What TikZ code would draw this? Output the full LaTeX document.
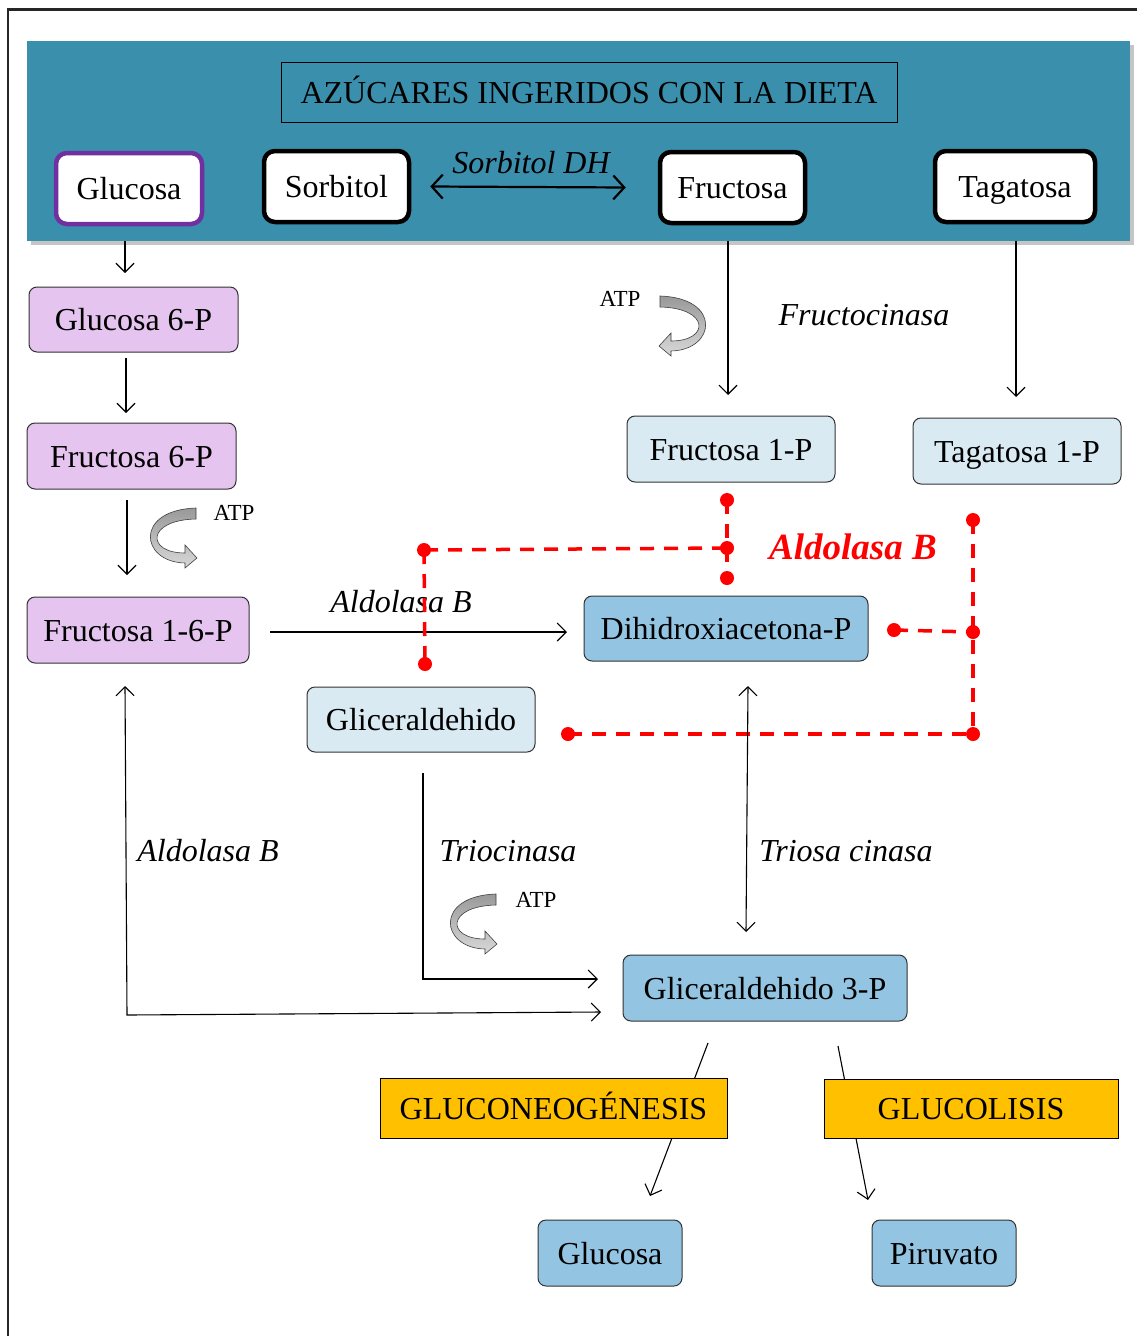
\documentclass[tikz,border=0pt]{standalone}
\usepackage{fontspec}
\setmainfont{Liberation Serif}
\usetikzlibrary{arrows.meta,shadows,calc}
\definecolor{bannerc}{HTML}{3A8FAD}
\definecolor{purplef}{RGB}{229,196,239}
\definecolor{purpled}{HTML}{7030A0}
\definecolor{lblue}{RGB}{218,234,243}
\definecolor{mblue}{RGB}{147,196,225}
\definecolor{gold}{HTML}{FFC000}
\newcommand\bigtxt{\fontsize{32}{38}\selectfont}
\newcommand\atptxt{\fontsize{23}{27}\selectfont}
\newcommand\redtxt{\fontsize{37}{44}\selectfont\bfseries\itshape}
\tikzset{
  vtip/.tip={Straight Barb[length=9pt,width=18pt]},
  vtipb/.tip={Straight Barb[length=11pt,width=24pt]},
  arr/.style={line width=1.1pt,-{vtip}},
  arrb/.style={line width=1.1pt,{vtip}-{vtip}},
  box/.style={rounded corners=8pt, draw=black!80, line width=1pt, inner sep=0pt, font=\bigtxt, text height=29pt, text depth=7pt},
  topbox/.style={box, fill=white, draw=black, line width=4.5pt, rounded corners=11pt},
  pbox/.style={box, fill=purplef},
  lbox/.style={box, fill=lblue},
  mbox/.style={box, fill=mblue},
  gbox/.style={draw=black, line width=1pt, fill=gold, inner sep=0pt, font=\bigtxt, text height=29pt, text depth=7pt},
  lab/.style={font=\bigtxt\itshape, inner sep=0pt},
  atplab/.style={font=\atptxt, inner sep=0pt},
  reddash/.style={red, line width=3.5pt, dash pattern=on 14pt off 10pt},
  atp/.pic={
    \path[draw=black!75, line width=0.6pt, top color=gray!80, bottom color=gray!30]
      (0,0) .. controls (-62,2) and (-56,54) .. (-11,55) -- (-11,60) -- (1,50) -- (-11,37) -- (-11,45)
      .. controls (-50,45) and (-50,12) .. (0,11) -- cycle;
  }
}
\begin{document}
\begin{tikzpicture}[x=1pt,y=-1pt]
\useasboundingbox (0,0) rectangle (1136,1336);
\fill[white] (0,0) rectangle (1136,1336);
\draw[line width=2.5pt, black!85] (8,1340) -- (8,9.5) -- (1140,9.5);

% banner
\node[fill=bannerc, minimum width=1103pt, minimum height=200pt, inner sep=0pt,
      drop shadow={shadow xshift=4pt, shadow yshift=-4pt, opacity=0.45}] (banner) at (578.5,141) {};
\node[draw=black, line width=1pt, minimum width=616pt, minimum height=60pt, inner sep=0pt, font=\bigtxt, text height=29pt, text depth=7pt] (title) at (589,92) {AZÚCARES INGERIDOS CON LA DIETA};
\node[topbox, draw=purpled, minimum width=146pt, minimum height=71pt] (gluT) at (129,188.5) {Glucosa};
\node[topbox, minimum width=145pt, minimum height=71pt] (sorb) at (336.5,186.5) {Sorbitol};
\node[topbox, minimum width=145pt, minimum height=71pt] (fruT) at (732.5,187.5) {Fructosa};
\node[topbox, minimum width=160pt, minimum height=71pt] (tagT) at (1015,186.5) {Tagatosa};
\node[lab] (sdh) at (531,163) {Sorbitol DH};
\path (sorb.east) ++(19,0) coordinate (s1);
\path (fruT.west) ++(-32,0) coordinate (s2);
\draw[line width=2.2pt, {vtipb}-{vtipb}] (s1) -- (s2);

% left column
\node[pbox, minimum width=209pt, minimum height=65pt] (g6p) at (133.5,319.5) {Glucosa 6-P};
\node[pbox, minimum width=209pt, minimum height=66pt] (f6p) at (131.5,456) {Fructosa 6-P};
\node[pbox, minimum width=222pt, minimum height=66pt] (f16p) at (138,630) {Fructosa 1-6-P};

\coordinate (c1a) at (125,241); \coordinate (c1b) at (125,273);
\draw[arr] (c1a) -- (c1b);
\coordinate (c2a) at (126,358); \coordinate (c2b) at (126,413);
\draw[arr] (c2a) -- (c2b);
\coordinate (c3a) at (127,500); \coordinate (c3b) at (127,575);
\draw[arr] (c3a) -- (c3b);
\pic at (196,508) {atp};
\node[atplab] (atp1) at (234,513) {ATP};

% right column
\node[lbox, minimum width=208pt, minimum height=66pt] (f1p) at (731,449) {Fructosa 1-P};
\node[lbox, minimum width=208pt, minimum height=66pt] (t1p) at (1017,451) {Tagatosa 1-P};
\coordinate (c5a) at (728,241); \coordinate (c5b) at (728,395);
\draw[arr] (c5a) -- (c5b);
\coordinate (c6a) at (1016,241); \coordinate (c6b) at (1016,397);
\draw[arr] (c6a) -- (c6b);
\pic[xscale=-1] at (660,296) {atp};
\node[atplab] (atp2) at (620,299) {ATP};
\node[lab] (fck) at (864,315) {Fructocinasa};

% middle
\node[mbox, minimum width=284pt, minimum height=65pt] (dhap) at (726,628.5) {Dihidroxiacetona-P};
\node[lbox, minimum width=228pt, minimum height=65pt] (gald) at (421,719.5) {Gliceraldehido};
\coordinate (c4a) at (270,632); \coordinate (c4b) at (567,632);
\draw[arr] (c4a) -- (c4b);
\node[lab] (ald1) at (401,602) {Aldolasa B};

% red dashed
\coordinate (r1) at (727,500); \coordinate (r2) at (727,548); \coordinate (r3) at (727,578);
\coordinate (r4) at (424,550); \coordinate (r5) at (425,664);
\coordinate (r6) at (973,520); \coordinate (r7) at (973,632); \coordinate (r8) at (973,734);
\coordinate (r9) at (894,630); \coordinate (r10) at (568,734);
\draw[reddash] (r1) -- (r3);
\draw[reddash] (r4) -- (r2);
\draw[reddash] (r4) -- (r5);
\draw[reddash] (r6) -- (r8);
\draw[reddash] (r9) -- (r7);
\draw[reddash] (r10) -- (r8);
\foreach \p in {r1,r2,r3,r4,r5,r6,r7,r8,r9,r10} \fill[red] (\p) circle (7pt);
\node[font=\redtxt, text=red, inner sep=0pt] (aldR) at (853,547) {Aldolasa B};

% lower
\node[mbox, minimum width=284pt, minimum height=66pt] (g3p) at (765,988) {Gliceraldehido 3-P};
\coordinate (c7a) at (748,686); \coordinate (c7b) at (746,932);
\draw[arrb] (c7a) -- (c7b);
\node[lab] (tc) at (846,851) {Triosa cinasa};

\coordinate (c8a) at (423,773); \coordinate (c8b) at (423,979); \coordinate (c8c) at (598,979);
\draw[arr] (c8a) -- (c8b) -- (c8c);
\node[lab] (tri) at (508,851) {Triocinasa};
\pic at (496,894) {atp};
\node[atplab] (atp3) at (536,900) {ATP};

\coordinate (c9a) at (125,686); \coordinate (c9b) at (127,1015); \coordinate (c9c) at (601,1012);
\draw[arrb] (c9a) -- (c9b) -- (c9c);
\node[lab] (ald2) at (208,851) {Aldolasa B};

\coordinate (c10a) at (708,1043); \coordinate (c10b) at (650,1196);
\draw[arr] (c10a) -- (c10b);
\coordinate (c11a) at (838,1046); \coordinate (c11b) at (868,1200);
\draw[arr] (c11a) -- (c11b);
\node[gbox, minimum width=347pt, minimum height=60pt] (gng) at (553.5,1108) {GLUCONEOGÉNESIS};
\node[gbox, minimum width=294pt, minimum height=59pt] (glc) at (971,1108.5) {GLUCOLISIS};
\node[mbox, minimum width=144pt, minimum height=66pt] (glcB) at (610,1253) {Glucosa};
\node[mbox, minimum width=144pt, minimum height=66pt] (pir) at (944,1253) {Piruvato};
\end{tikzpicture}
\end{document}
